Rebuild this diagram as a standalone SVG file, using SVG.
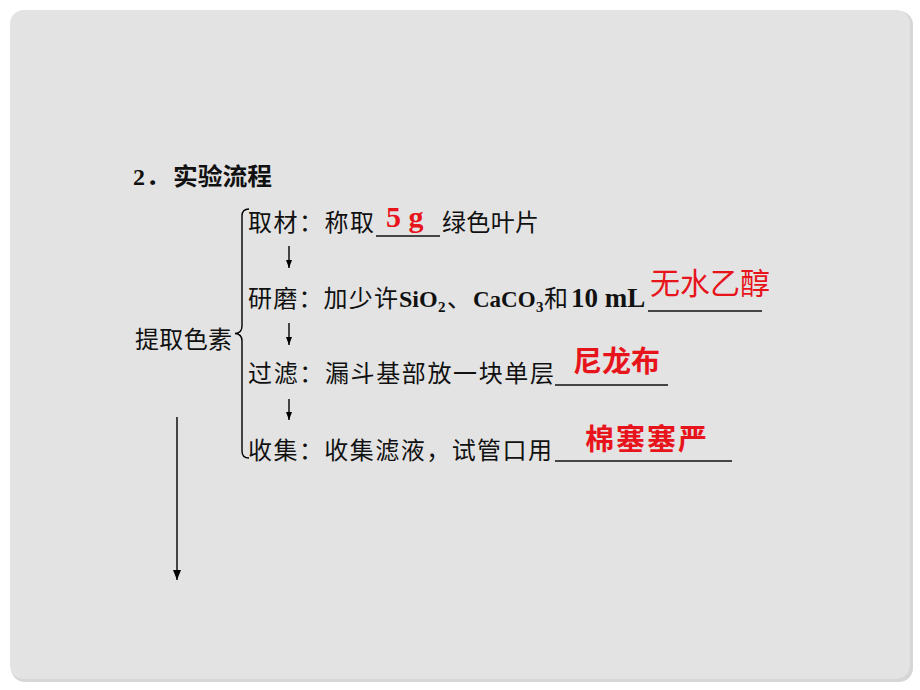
<svg xmlns="http://www.w3.org/2000/svg" width="920" height="690" viewBox="0 0 920 690">
<defs>
<marker id="ah" markerWidth="10" markerHeight="8" refX="10" refY="4" orient="auto" markerUnits="userSpaceOnUse" viewBox="0 0 10 8">
<path d="M0,0 L10,4 L0,8 Z" fill="#000"/>
</marker>
<marker id="ahs" markerWidth="8" markerHeight="6" refX="8" refY="3" orient="auto" markerUnits="userSpaceOnUse" viewBox="0 0 8 6">
<path d="M0,0 L8,3 L0,6 Z" fill="#000"/>
</marker>
</defs>
<style>
.cn{font-family:"Noto Sans CJK SC","Liberation Serif",sans-serif;font-size:24px;fill:#111}
.cnb{font-family:"Noto Sans CJK SC",sans-serif;font-size:24px;font-weight:bold;fill:#111}
.lat{font-family:"Liberation Serif","Noto Sans CJK SC",serif;font-size:24px;font-weight:bold;fill:#111}
.sub{font-family:"Liberation Serif",serif;font-size:15px;font-weight:bold}
.cnt{font-family:"Noto Sans CJK SC",sans-serif;font-weight:normal;font-size:24px}
.ans{font-family:"Noto Sans CJK SC",sans-serif;font-size:30px;fill:#e8141b}
.ansb{font-family:"Noto Sans CJK SC",sans-serif;font-size:29px;font-weight:bold;fill:#e8141b}
.ul{stroke:#111;stroke-width:1.6}
.conn{stroke:#000;stroke-width:1.4;fill:none}
</style>
<rect x="0" y="0" width="920" height="690" fill="#ffffff"/>
<rect x="11" y="11" width="902" height="671" rx="14" fill="#d6d6d6"/>
<rect x="10" y="10" width="900" height="669" rx="14" fill="#e3e3e3"/>

<g id="title">
<text x="133" y="185" class="lat">2</text>
<text x="146" y="185" class="cnb">．</text>
<text x="173" y="185" class="cnb" textLength="99" lengthAdjust="spacingAndGlyphs">实验流程</text>
</g>

<g id="root">
<text x="135" y="348" class="cn" textLength="97" lengthAdjust="spacing">提取色素</text>
</g>

<g id="brace">
<path class="conn" d="M249,209 Q242,209 242,216 L242,326 Q242,333 235,333.5 Q242,334 242,341 L242,451 Q242,458 249,458"/>
</g>

<g id="step1">
<text x="248" y="231" class="cn" textLength="126" lengthAdjust="spacing">取材：称取</text>
<line class="ul" x1="376" y1="236" x2="440" y2="236"/>
<text x="386" y="227" font-family="Liberation Serif,serif" font-size="30" font-weight="bold" fill="#e8141b">5 g</text>
<text x="442" y="231" class="cn" textLength="97" lengthAdjust="spacing">绿色叶片</text>
</g>

<g id="step2">
<text x="248" y="307" class="cn" textLength="150" lengthAdjust="spacing">研磨：加少许</text>
<text x="399" y="307" class="lat">SiO<tspan class="sub" x="438" dy="5">2</tspan><tspan class="cnt" x="447" dy="-5">、</tspan><tspan x="473" font-size="23">CaCO</tspan><tspan class="sub" x="536" dy="5">3</tspan><tspan class="cnt" x="544" dy="-5">和</tspan><tspan x="571" font-size="27">10 mL</tspan></text>
<line class="ul" x1="648" y1="311" x2="762" y2="311"/>
<text x="650" y="294" class="ans" textLength="120" lengthAdjust="spacing">无水乙醇</text>
</g>

<g id="step3">
<text x="248" y="382" class="cn" textLength="306" lengthAdjust="spacing">过滤：漏斗基部放一块单层</text>
<line class="ul" x1="555" y1="385" x2="668" y2="385"/>
<text x="573" y="372" class="ansb" textLength="87" lengthAdjust="spacing">尼龙布</text>
</g>

<g id="step4">
<text x="248" y="459" class="cn" textLength="304" lengthAdjust="spacing">收集：收集滤液，试管口用</text>
<line class="ul" x1="555" y1="461" x2="732" y2="461"/>
<text x="585" y="450" class="ansb" font-size="30" textLength="122" lengthAdjust="spacing">棉塞塞严</text>
</g>

<g id="connectors">
<line class="conn" x1="289" y1="246" x2="289" y2="268" marker-end="url(#ahs)"/>
<line class="conn" x1="289" y1="323" x2="289" y2="345" marker-end="url(#ahs)"/>
<line class="conn" x1="289" y1="399" x2="289" y2="420" marker-end="url(#ahs)"/>
<line class="conn" x1="177" y1="417" x2="177" y2="580" marker-end="url(#ah)"/>
</g>
</svg>
